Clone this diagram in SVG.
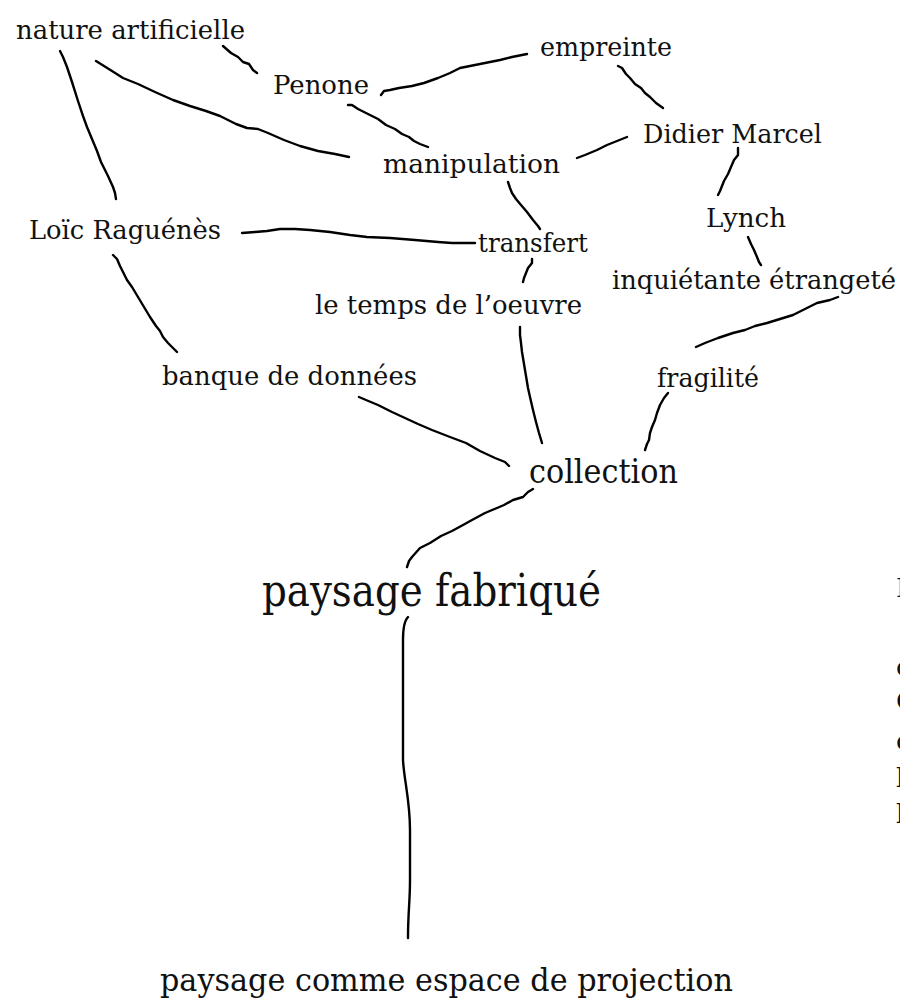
<svg xmlns="http://www.w3.org/2000/svg" width="900" height="998" viewBox="0 0 900 998">
<style>
text{font-family:"DejaVu Serif","Liberation Serif",serif;fill:#111;}
.n{font-size:26px;}
.c{font-size:33px;}
.big{font-size:44px;}
.bot{font-size:32px;}
.edge{font-size:26px;}
#connectors path{fill:none;stroke:#000;stroke-width:2.4;stroke-linecap:round;stroke-linejoin:round;}
</style>
<rect width="900" height="998" fill="#fff"/>
<g id="connectors">
<path d="M223,46 L231,53 L238,57 L243,62 L249,64 L253,70 L257,73"/>
<path d="M96,61 L104,66 L112,71 L123,78 L138,84 L155,92 L173,100 L190,106 L206,111 L220,116 L236,124 L247,128 L258,129 L268,133 L284,140 L300,146 L318,151 L335,154 L349,157"/>
<path d="M60,51 L63,57 L67,67 L72,82 L78,101 L83,116 L87,127 L92,139 L97,151 L101,162 L108,176 L113,187 L115,193 L116,199"/>
<path d="M348,105 L352,105 L358,109 L368,114 L378,119 L386,125 L395,129 L402,134 L409,137 L414,141 L420,144 L428,147"/>
<path d="M381,95 L384,91 L390,90 L399,88 L412,86 L424,83 L438,78 L450,73 L460,68 L470,66 L485,63 L500,60 L512,57 L517,56 L522,55 L527,54"/>
<path d="M618,66 L622,68 L626,74 L630,78 L635,84 L641,88 L645,93 L650,97 L656,103 L663,108"/>
<path d="M577,158 L585,155 L597,150 L607,145 L617,141 L627,137"/>
<path d="M738,148 L738,155 L734,160 L731,167 L728,174 L724,181 L722,186 L720,191 L718,195"/>
<path d="M508,182 L510,188 L512,193 L516,199 L521,205 L527,212 L533,220 L538,226 L540,229"/>
<path d="M242,233 L255,232 L267,231 L280,229 L295,229 L310,230 L330,232 L350,235 L367,237 L390,238 L415,240 L438,242 L452,243 L462,243 L475,243"/>
<path d="M113,255 L117,259 L120,266 L124,274 L127,280 L132,287 L138,297 L144,307 L150,317 L156,326 L160,331 L163,337 L168,343 L173,348 L177,352"/>
<path d="M359,397 L366,400 L378,405 L392,412 L405,418 L418,424 L432,430 L450,437 L466,443 L480,451 L495,458 L505,462 L509,466"/>
<path d="M532,259 L532,263 L528,268 L526,273 L524,278 L523,282"/>
<path d="M748,237 L751,244 L754,250 L757,257 L759,262 L761,265"/>
<path d="M838,297 L830,300 L817,303 L805,309 L793,315 L780,319 L767,323 L755,326 L745,330 L733,333 L718,338 L705,343 L696,347"/>
<path d="M520,327 L520,335 L521,343 L522,352 L524,364 L526,376 L528,388 L530,397 L533,410 L536,422 L539,433 L542,443"/>
<path d="M668,393 L664,398 L660,405 L657,413 L655,420 L652,427 L650,433 L649,440 L647,444 L645,450"/>
<path d="M533,489 L528,492 L523,497 L513,500 L504,505 L497,508 L485,513 L472,520 L463,525 L452,531 L441,536 L430,543 L420,548 L412,557 L409,561 L407,567"/>
<path d="M408,617 C405,620 403,625 403,640 L403,760 C404,780 410,800 410,830 L410,880 C410,902 408,912 408,938"/>
</g>
<g id="nature-artificielle"><text class="n" x="16" y="39" textLength="229" lengthAdjust="spacingAndGlyphs">nature artificielle</text></g>
<g id="penone"><text class="n" x="273" y="94" textLength="96" lengthAdjust="spacingAndGlyphs">Penone</text></g>
<g id="empreinte"><text class="n" x="540" y="56" textLength="132" lengthAdjust="spacingAndGlyphs">empreinte</text></g>
<g id="manipulation"><text class="n" x="383" y="173" textLength="177" lengthAdjust="spacingAndGlyphs">manipulation</text></g>
<g id="didier-marcel"><text class="n" x="643" y="143" textLength="179" lengthAdjust="spacingAndGlyphs">Didier Marcel</text></g>
<g id="loic-raguenes"><text class="n" x="29" y="239" textLength="192" lengthAdjust="spacingAndGlyphs">Loïc Raguénès</text></g>
<g id="transfert"><text class="n" x="478" y="252" textLength="110" lengthAdjust="spacingAndGlyphs">transfert</text></g>
<g id="lynch"><text class="n" x="706" y="227" textLength="80" lengthAdjust="spacingAndGlyphs">Lynch</text></g>
<g id="inquietante-etrangete"><text class="n" x="612" y="289" textLength="284" lengthAdjust="spacingAndGlyphs">inquiétante étrangeté</text></g>
<g id="le-temps"><text class="n" x="315" y="314" textLength="267" lengthAdjust="spacingAndGlyphs">le temps de l’oeuvre</text></g>
<g id="banque"><text class="n" x="162" y="385" textLength="255" lengthAdjust="spacingAndGlyphs">banque de données</text></g>
<g id="fragilite"><text class="n" x="657" y="387" textLength="102" lengthAdjust="spacingAndGlyphs">fragilité</text></g>
<g id="collection"><text class="c" x="529" y="483" textLength="149" lengthAdjust="spacingAndGlyphs">collection</text></g>
<g id="paysage-fabrique"><text class="big" x="262" y="606" textLength="339" lengthAdjust="spacingAndGlyphs">paysage fabriqué</text></g>
<g id="paysage-projection"><text class="bot" x="160" y="991" textLength="573" lengthAdjust="spacingAndGlyphs">paysage comme espace de projection</text></g>
<g id="edge-text">
<text class="edge" x="896" y="597">P</text>
<text class="edge" x="896" y="676">o</text>
<text class="edge" x="896" y="710">C</text>
<text class="edge" x="896" y="750">c</text>
<text class="edge" x="896" y="787">l</text>
<text class="edge" x="896" y="823">l</text>
</g>
</svg>
